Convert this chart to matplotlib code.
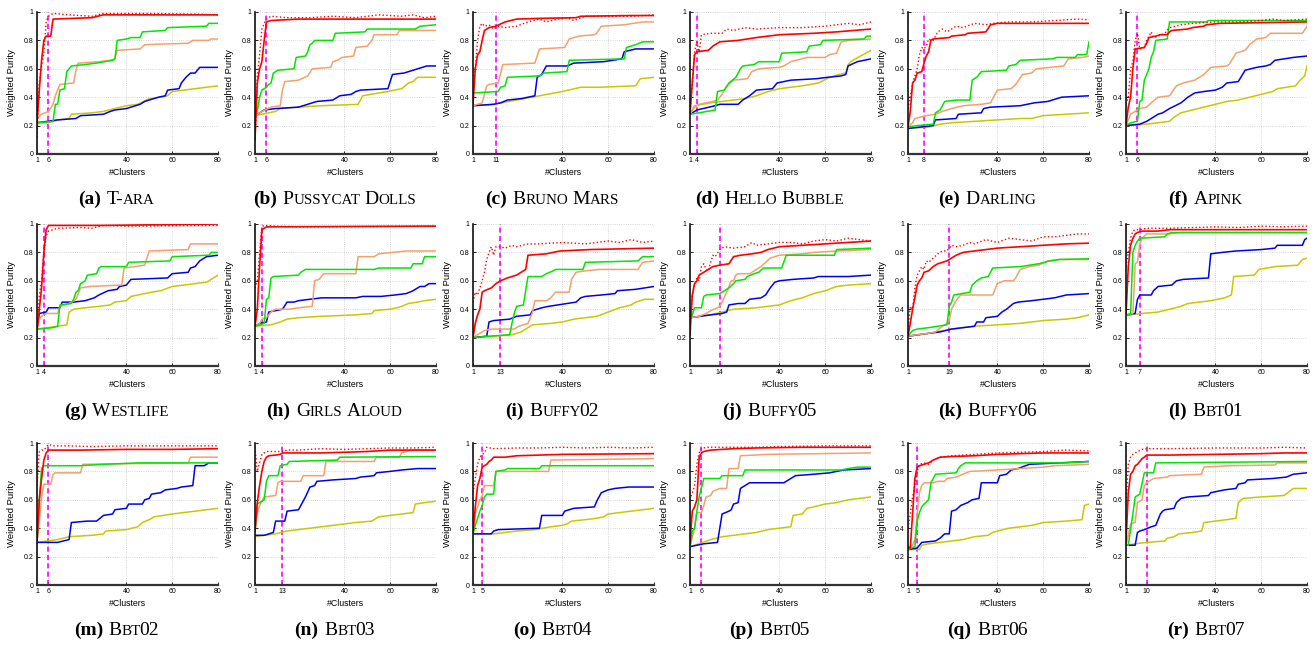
import matplotlib
matplotlib.use('Agg')
import matplotlib.pyplot as plt
from matplotlib.font_manager import FontProperties

# dataset names, caption letters and the chosen number of clusters (magenta line)
titles = ['T-ara', 'Pussycat Dolls', 'Bruno Mars', 'Hello Bubble', 'Darling', 'Apink',
          'Westlife', 'Girls Aloud', 'Buffy02', 'Buffy05', 'Buffy06', 'Bbt01',
          'Bbt02', 'Bbt03', 'Bbt04', 'Bbt05', 'Bbt06', 'Bbt07']
letters = 'abcdefghijklmnopqr'
k_values = [6, 6, 11, 4, 8, 6, 4, 4, 13, 14, 19, 7, 6, 13, 5, 6, 5, 10]
x_ticks_common = [1, 40, 60, 80]
y_ticks = [0, 0.2, 0.4, 0.6, 0.8, 1]
y_ticklabels = ['0', '0.2', '0.4', '0.6', '0.8', '1']

# (number of clusters, weighted purity)
tara = dict(
    red=[(1, .22), (2, .45), (3, .66), (4, .8), (5, .83), (7, .83), (8, .95), (25, .96), (30, .98), (80, .98)],
    dotted=[(1, .12), (2, .5), (3, .62), (4, .72), (5, .93), (6, .97), (8, .99), (15, .98), (25, .97), (30, .99),
            (50, .99), (70, .985), (80, .98)],
    green=[(1, .22), (8, .23), (9, .35), (10, .35), (11, .45), (13, .46), (14, .58), (15, .6), (16, .62), (22, .63),
           (27, .64), (34, .66), (35, .67), (36, .8), (40, .81), (42, .82), (46, .82), (47, .86), (57, .87), (58, .89),
           (75, .9), (76, .92), (80, .92)],
    orange=[(1, .25), (3, .28), (6, .3), (8, .35), (9, .41), (11, .49), (17, .5), (18, .59), (19, .64), (28, .65),
            (33, .66), (35, .67), (36, .73), (46, .74), (48, .77), (67, .78), (69, .8), (76, .8), (77, .81), (80, .81)],
    blue=[(1, .22), (10, .24), (18, .25), (20, .27), (30, .28), (33, .3), (35, .31), (40, .32), (46, .35), (48, .37),
          (50, .38), (54, .4), (57, .41), (58, .45), (63, .46), (64, .5), (66, .54), (68, .57), (70, .57), (72, .61),
          (80, .61)],
    yellow=[(1, .22), (6, .22), (10, .24), (15, .25), (16, .28), (25, .29), (30, .3), (35, .32), (40, .34), (45, .35),
            (50, .39), (55, .4), (58, .41), (60, .44), (70, .46), (75, .47), (80, .48)],
)
pussycat = dict(
    red=[(1, .1), (2, .5), (3, .6), (4, .65), (5, .8), (6, .93), (8, .94), (20, .95), (80, .95)],
    dotted=[(1, .1), (2, .55), (3, .7), (4, .88), (5, .92), (6, .95), (8, .97), (15, .96), (25, .96), (35, .97),
            (45, .96), (55, .98), (65, .97), (70, .98), (75, .96), (80, .97)],
    green=[(1, .27), (2, .3), (3, .4), (4, .45), (6, .47), (7, .49), (8, .5), (9, .57), (11, .59), (18, .6), (19, .68),
           (23, .69), (24, .72), (25, .77), (26, .78), (27, .8), (35, .8), (36, .85), (49, .86), (50, .88), (71, .88),
           (73, .9), (80, .91)],
    orange=[(1, .27), (4, .3), (8, .33), (12, .34), (13, .45), (14, .51), (20, .52), (24, .55), (26, .6), (34, .61),
            (35, .65), (37, .66), (39, .68), (44, .69), (45, .75), (50, .76), (52, .8), (53, .84), (63, .84), (64, .87),
            (80, .87)],
    blue=[(1, .27), (3, .29), (5, .31), (10, .32), (20, .33), (24, .35), (28, .37), (35, .38), (38, .41), (43, .42),
          (45, .44), (47, .45), (59, .46), (61, .56), (66, .57), (68, .58), (72, .6), (76, .62), (80, .62)],
    yellow=[(1, .27), (10, .3), (12, .32), (20, .33), (30, .34), (46, .35), (48, .41), (55, .43), (59, .44), (65, .46),
            (68, .5), (70, .51), (72, .54), (80, .54)],
)
bruno = dict(
    red=[(1, .35), (2, .6), (3, .7), (4, .72), (5, .8), (6, .87), (8, .89), (11, .9), (15, .93), (20, .95), (30, .955),
         (46, .96), (48, .97), (70, .975), (80, .975)],
    dotted=[(1, .55), (2, .6), (3, .8), (4, .9), (5, .92), (6, .9), (8, .91), (10, .88), (12, .9), (15, .89), (20, .9),
            (25, .93), (30, .95), (33, .93), (38, .95), (42, .96), (45, .94), (50, .97), (60, .97), (70, .97), (80, .98)],
    green=[(1, .43), (12, .44), (13, .47), (15, .48), (16, .54), (30, .55), (32, .57), (42, .58), (43, .66), (67, .67),
           (68, .75), (72, .77), (75, .79), (80, .79)],
    orange=[(1, .34), (5, .36), (7, .48), (8, .49), (12, .5), (14, .63), (28, .64), (30, .74), (41, .75), (43, .81),
            (47, .83), (54, .84), (55, .85), (57, .9), (67, .91), (75, .93), (80, .93)],
    blue=[(1, .34), (10, .35), (13, .36), (16, .38), (22, .39), (28, .41), (29, .54), (31, .56), (33, .62), (42, .62),
          (45, .64), (58, .65), (66, .67), (67, .72), (72, .74), (80, .74)],
    yellow=[(1, .34), (10, .35), (20, .38), (30, .41), (40, .44), (48, .47), (56, .47), (72, .48), (74, .53), (80, .54)],
)
hello = dict(
    red=[(1, .28), (2, .5), (3, .7), (4, .72), (9, .73), (11, .76), (14, .79), (22, .8), (30, .82), (40, .84), (55, .85),
         (65, .86), (80, .88)],
    dotted=[(1, .3), (2, .5), (3, .72), (4, .79), (5, .72), (6, .84), (10, .85), (15, .85), (17, .88), (20, .87),
            (25, .89), (30, .88), (40, .89), (50, .89), (60, .9), (70, .92), (75, .91), (80, .93)],
    green=[(1, .28), (5, .29), (12, .31), (13, .44), (16, .45), (18, .5), (21, .54), (23, .6), (24, .62), (29, .63),
           (31, .65), (40, .65), (41, .71), (52, .72), (53, .76), (58, .77), (59, .8), (77, .81), (78, .83), (80, .83)],
    orange=[(1, .28), (3, .33), (5, .35), (11, .37), (13, .38), (15, .42), (17, .48), (20, .52), (26, .53), (28, .58),
            (31, .6), (40, .61), (42, .62), (45, .65), (52, .68), (60, .68), (62, .7), (65, .71), (67, .79), (70, .8),
            (80, .81)],
    blue=[(1, .28), (4, .31), (12, .34), (14, .35), (22, .35), (24, .38), (27, .41), (30, .45), (37, .46), (39, .5),
          (45, .52), (56, .53), (61, .54), (67, .55), (69, .56), (70, .62), (74, .65), (80, .67)],
    yellow=[(1, .28), (3, .34), (10, .36), (20, .38), (25, .39), (30, .41), (35, .44), (40, .46), (50, .48), (57, .5),
            (62, .54), (66, .56), (69, .57), (70, .63), (72, .66), (80, .73)],
)
darling = dict(
    red=[(1, .19), (2, .3), (3, .5), (4, .52), (5, .57), (7, .58), (8, .64), (9, .69), (10, .72), (11, .8), (12, .81),
         (19, .82), (20, .83), (26, .84), (27, .85), (35, .86), (37, .91), (40, .92), (80, .92)],
    dotted=[(1, .32), (2, .4), (3, .5), (5, .6), (6, .7), (7, .75), (8, .74), (9, .76), (10, .81), (12, .8), (14, .86),
            (16, .88), (18, .86), (22, .9), (25, .89), (30, .92), (35, .91), (38, .92), (45, .93), (55, .93), (65, .94),
            (75, .95), (80, .945)],
    green=[(1, .19), (5, .2), (12, .21), (13, .29), (15, .31), (17, .37), (22, .38), (28, .38), (29, .52), (31, .54),
           (33, .58), (44, .59), (45, .62), (48, .63), (50, .66), (64, .67), (66, .68), (74, .68), (75, .7), (79, .7),
           (80, .79)],
    orange=[(1, .19), (3, .22), (4, .25), (9, .27), (13, .28), (16, .3), (20, .32), (25, .34), (33, .35), (37, .36),
            (38, .39), (40, .45), (46, .46), (48, .49), (51, .56), (55, .57), (57, .6), (69, .62), (71, .67), (77, .68),
            (80, .69)],
    blue=[(1, .18), (12, .2), (13, .24), (22, .25), (23, .28), (33, .29), (34, .32), (37, .33), (50, .34), (56, .36),
          (62, .37), (68, .4), (80, .41)],
    yellow=[(1, .18), (10, .19), (15, .21), (20, .22), (30, .23), (40, .24), (50, .25), (55, .25), (60, .27), (70, .28),
            (80, .29)],
)
apink = dict(
    red=[(1, .2), (2, .33), (3, .4), (4, .6), (5, .74), (9, .75), (10, .78), (11, .82), (14, .83), (16, .84), (19, .84),
         (20, .86), (21, .87), (28, .88), (30, .89), (35, .9), (36, .91), (42, .92), (80, .93)],
    dotted=[(1, .35), (2, .4), (3, .6), (4, .65), (5, .8), (6, .85), (7, .74), (9, .75), (10, .8), (12, .86), (13, .82),
            (15, .83), (18, .85), (20, .89), (25, .91), (30, .92), (40, .93), (50, .93), (60, .94), (65, .95), (70, .94),
            (80, .95)],
    green=[(1, .2), (3, .22), (6, .23), (7, .37), (8, .38), (9, .52), (11, .6), (12, .68), (13, .72), (14, .8), (19, .81),
           (20, .93), (36, .93), (37, .94), (80, .94)],
    orange=[(1, .2), (3, .28), (5, .3), (7, .32), (10, .33), (12, .36), (15, .4), (20, .41), (23, .48), (26, .5),
            (31, .52), (33, .54), (35, .56), (38, .61), (45, .62), (46, .63), (49, .71), (53, .73), (55, .77), (58, .81),
            (62, .82), (64, .85), (78, .85), (80, .9)],
    blue=[(1, .2), (7, .21), (10, .23), (12, .25), (15, .28), (17, .29), (20, .32), (25, .36), (28, .4), (31, .43),
          (35, .44), (40, .45), (43, .47), (45, .5), (50, .51), (53, .59), (58, .61), (62, .62), (64, .63), (66, .66),
          (74, .68), (80, .69)],
    yellow=[(1, .2), (10, .21), (20, .23), (22, .26), (25, .29), (30, .31), (35, .33), (40, .35), (45, .37), (50, .38),
            (55, .4), (60, .42), (65, .44), (67, .46), (75, .48), (77, .52), (79, .55), (80, .62)],
)
westlife = dict(
    red=[(1, .25), (3, .55), (4, .8), (5, .96), (6, .99), (30, .99), (80, 1.0)],
    dotted=[(1, .2), (2, .5), (3, .6), (4, .8), (5, .92), (6, .95), (10, .97), (20, .975), (25, .97), (30, .99),
            (40, .985), (80, .99)],
    green=[(1, .26), (8, .27), (10, .28), (11, .43), (16, .44), (17, .47), (18, .52), (19, .53), (20, .58), (22, .6),
           (23, .64), (27, .65), (28, .69), (29, .7), (40, .7), (41, .73), (59, .74), (60, .77), (76, .78), (77, .8),
           (80, .8)],
    orange=[(1, .26), (2, .33), (3, .35), (5, .37), (10, .37), (11, .42), (15, .44), (17, .46), (18, .47), (20, .55),
            (24, .56), (38, .57), (39, .69), (48, .71), (50, .81), (67, .82), (68, .86), (80, .86)],
    blue=[(1, .26), (2, .37), (5, .38), (6, .41), (11, .41), (12, .45), (17, .45), (22, .46), (26, .48), (28, .5),
          (32, .53), (36, .54), (37, .56), (40, .57), (42, .61), (58, .62), (60, .65), (67, .66), (68, .69), (70, .7),
          (72, .74), (75, .77), (80, .78)],
    yellow=[(1, .26), (10, .28), (14, .29), (15, .38), (17, .4), (22, .41), (28, .42), (33, .43), (35, .45), (40, .46),
            (42, .49), (51, .52), (55, .53), (60, .56), (65, .57), (75, .59), (80, .64)],
)
girls = dict(
    red=[(1, .28), (2, .4), (3, .7), (4, .96), (5, .97), (6, .98), (80, .985)],
    dotted=[(1, .55), (2, .6), (3, .8), (4, .98), (5, .99), (10, .985), (20, .98), (80, .985)],
    green=[(1, .28), (5, .3), (6, .47), (7, .48), (8, .62), (9, .63), (20, .64), (21, .66), (23, .68), (53, .68),
           (55, .69), (69, .69), (70, .72), (74, .72), (75, .77), (80, .77)],
    orange=[(1, .28), (3, .3), (4, .33), (6, .34), (8, .38), (10, .4), (16, .4), (20, .41), (26, .42), (27, .6),
            (29, .61), (31, .65), (45, .65), (46, .77), (53, .77), (55, .79), (61, .8), (67, .81), (80, .81)],
    blue=[(1, .28), (3, .3), (6, .31), (7, .38), (10, .39), (13, .4), (15, .45), (18, .45), (20, .46), (25, .47),
          (30, .48), (45, .48), (48, .49), (56, .49), (62, .5), (67, .51), (70, .53), (73, .56), (75, .56), (77, .58),
          (80, .58)],
    yellow=[(1, .28), (8, .29), (12, .31), (15, .33), (20, .34), (30, .35), (45, .36), (52, .37), (53, .39), (60, .4),
            (63, .41), (65, .42), (68, .44), (72, .45), (75, .46), (80, .47)],
)
buffy02 = dict(
    red=[(1, .2), (2, .3), (3, .36), (4, .4), (5, .52), (6, .53), (9, .55), (11, .58), (13, .6), (16, .62), (20, .64),
         (23, .67), (24, .68), (25, .78), (33, .79), (39, .81), (52, .82), (80, .83)],
    dotted=[(1, .45), (2, .52), (3, .5), (4, .55), (5, .6), (6, .66), (7, .75), (8, .8), (9, .84), (10, .78), (11, .84),
            (13, .84), (15, .83), (18, .85), (20, .84), (25, .86), (30, .86), (40, .87), (50, .86), (55, .87), (60, .88),
            (65, .87), (70, .89), (75, .87), (80, .88)],
    green=[(1, .2), (8, .21), (17, .22), (18, .3), (19, .37), (20, .42), (23, .43), (24, .53), (25, .63), (31, .63),
           (33, .65), (36, .67), (37, .68), (49, .68), (50, .73), (73, .74), (75, .77), (80, .77)],
    orange=[(1, .2), (3, .22), (6, .25), (9, .26), (19, .26), (21, .28), (25, .3), (27, .38), (28, .46), (33, .46),
            (35, .48), (37, .52), (43, .52), (44, .61), (46, .66), (50, .67), (56, .68), (73, .68), (75, .73), (80, .74)],
    blue=[(1, .2), (7, .21), (8, .31), (10, .32), (17, .33), (20, .35), (26, .36), (27, .39), (31, .41), (34, .42),
          (38, .43), (42, .44), (46, .45), (48, .48), (50, .49), (57, .5), (63, .51), (64, .53), (72, .54), (80, .56)],
    yellow=[(1, .2), (10, .21), (18, .22), (22, .24), (25, .27), (27, .29), (35, .3), (40, .31), (45, .33), (50, .34),
            (55, .35), (60, .38), (65, .41), (70, .43), (72, .45), (76, .47), (80, .47)],
)
buffy05 = dict(
    red=[(1, .22), (2, .5), (3, .58), (4, .6), (5, .64), (6, .65), (8, .67), (10, .69), (11, .7), (14, .71), (18, .72),
         (20, .77), (23, .78), (28, .79), (32, .8), (35, .82), (40, .84), (50, .85), (60, .86), (70, .87), (80, .88)],
    dotted=[(1, .33), (2, .5), (3, .58), (4, .62), (5, .6), (6, .7), (7, .72), (8, .68), (9, .67), (10, .73), (11, .78),
            (12, .77), (14, .82), (16, .84), (20, .83), (25, .84), (28, .87), (30, .85), (35, .86), (40, .87), (45, .87),
            (50, .86), (55, .88), (60, .89), (65, .88), (70, .9), (75, .89), (80, .88)],
    green=[(1, .34), (2, .36), (3, .41), (6, .41), (7, .49), (8, .5), (14, .51), (16, .53), (18, .55), (20, .58),
           (21, .6), (25, .61), (26, .63), (29, .65), (31, .66), (33, .69), (41, .69), (43, .78), (64, .78), (65, .82),
           (80, .83)],
    orange=[(1, .34), (5, .35), (8, .37), (10, .39), (13, .41), (14, .42), (15, .45), (17, .52), (18, .56), (19, .6),
            (20, .6), (21, .64), (22, .65), (27, .65), (30, .68), (32, .7), (34, .73), (36, .76), (38, .77), (40, .78),
            (50, .79), (55, .8), (65, .81), (80, .82)],
    blue=[(1, .34), (10, .36), (15, .37), (17, .38), (18, .43), (22, .44), (25, .44), (27, .47), (32, .48), (34, .5),
          (36, .55), (38, .59), (40, .6), (46, .61), (55, .62), (57, .63), (70, .63), (80, .64)],
    yellow=[(1, .34), (5, .35), (10, .36), (15, .38), (20, .4), (30, .41), (35, .42), (40, .43), (45, .46), (50, .48),
            (55, .51), (60, .53), (65, .56), (70, .57), (80, .58)],
)
buffy06 = dict(
    red=[(1, .21), (2, .3), (3, .4), (4, .48), (5, .57), (6, .6), (7, .62), (8, .66), (10, .67), (12, .7), (14, .72),
         (16, .73), (18, .74), (20, .76), (22, .78), (25, .8), (30, .81), (40, .83), (50, .84), (60, .85), (70, .86),
         (80, .865)],
    dotted=[(1, .25), (2, .42), (3, .4), (4, .55), (5, .64), (6, .67), (7, .7), (8, .68), (9, .74), (10, .73), (12, .76),
            (14, .79), (16, .81), (18, .81), (20, .85), (22, .84), (25, .85), (28, .87), (30, .86), (35, .89), (40, .87),
            (45, .9), (50, .89), (55, .88), (60, .91), (65, .91), (70, .92), (75, .93), (80, .93)],
    green=[(1, .21), (3, .25), (5, .26), (10, .27), (18, .29), (19, .42), (20, .45), (21, .5), (28, .52), (29, .57),
           (31, .6), (33, .62), (36, .63), (38, .69), (50, .7), (54, .71), (58, .72), (63, .74), (67, .75), (80, .755)],
    orange=[(1, .21), (5, .22), (10, .23), (13, .24), (16, .28), (18, .3), (19, .32), (20, .4), (22, .46), (24, .5),
            (38, .5), (40, .58), (43, .6), (47, .6), (48, .62), (50, .68), (54, .7), (58, .71), (62, .74), (67, .75),
            (80, .75)],
    blue=[(1, .21), (10, .23), (15, .24), (20, .26), (25, .27), (30, .28), (31, .31), (34, .31), (35, .34), (40, .35),
          (42, .38), (44, .4), (47, .44), (49, .45), (55, .46), (60, .47), (65, .48), (70, .5), (80, .51)],
    yellow=[(1, .21), (10, .23), (20, .26), (30, .28), (40, .29), (50, .3), (60, .32), (70, .33), (75, .34), (80, .36)],
)
bbt01 = dict(
    red=[(1, .36), (2, .7), (3, .85), (4, .9), (5, .93), (6, .94), (8, .95), (15, .95), (20, .96), (80, .96)],
    dotted=[(1, .7), (2, .8), (3, .9), (4, .95), (5, .96), (7, .96), (10, .97), (20, .97), (30, .975), (40, .98),
            (50, .975), (60, .985), (70, .98), (80, .985)],
    green=[(1, .36), (3, .36), (4, .8), (5, .85), (6, .88), (7, .9), (18, .91), (19, .93), (21, .94), (80, .94)],
    orange=[(1, .36), (4, .37), (5, .72), (6, .73), (7, .86), (8, .9), (10, .93), (20, .93), (25, .94), (80, .94)],
    blue=[(1, .36), (5, .37), (6, .47), (7, .5), (12, .5), (13, .53), (15, .56), (21, .57), (23, .6), (26, .61),
          (37, .62), (38, .79), (43, .8), (49, .81), (60, .82), (66, .83), (67, .85), (78, .85), (79, .89), (80, .9)],
    yellow=[(1, .36), (8, .37), (15, .38), (20, .4), (25, .42), (28, .44), (33, .45), (38, .46), (44, .48), (47, .5),
            (48, .63), (57, .64), (59, .68), (66, .7), (76, .71), (78, .75), (80, .76)],
)
bbt02 = dict(
    red=[(1, .3), (2, .6), (3, .75), (4, .88), (5, .93), (6, .95), (20, .95), (40, .955), (60, .955), (80, .96)],
    dotted=[(1, .7), (2, .94), (3, .95), (4, .95), (5, .97), (6, .99), (8, .98), (15, .98), (25, .975), (40, .98),
            (60, .98), (80, .98)],
    green=[(1, .3), (2, .6), (3, .82), (4, .84), (20, .84), (30, .85), (45, .86), (80, .86)],
    orange=[(1, .3), (2, .45), (3, .62), (4, .71), (7, .71), (8, .78), (9, .79), (20, .79), (21, .85), (67, .86),
            (68, .9), (80, .9)],
    blue=[(1, .3), (10, .3), (15, .32), (16, .44), (23, .45), (27, .45), (30, .49), (34, .5), (35, .53), (40, .54),
          (41, .57), (47, .57), (48, .6), (50, .61), (51, .64), (55, .65), (57, .67), (62, .68), (64, .69), (69, .7),
          (70, .84), (74, .84), (76, .86), (80, .86)],
    yellow=[(1, .3), (10, .32), (15, .34), (25, .35), (30, .36), (31, .38), (40, .39), (45, .41), (47, .44), (50, .46),
            (52, .48), (60, .5), (70, .52), (75, .53), (80, .54)],
)
bbt03 = dict(
    red=[(1, .38), (2, .58), (3, .7), (4, .8), (5, .87), (6, .9), (7, .91), (10, .915), (12, .92), (13, .93), (30, .93),
         (40, .935), (50, .94), (60, .95), (80, .95)],
    dotted=[(1, .97), (2, .8), (3, .86), (4, .92), (5, .93), (6, .94), (13, .94), (15, .95), (20, .95), (30, .96),
            (40, .955), (50, .96), (60, .965), (70, .965), (80, .97)],
    green=[(1, .38), (2, .57), (5, .6), (6, .73), (7, .77), (11, .77), (12, .84), (15, .85), (16, .87), (37, .88),
           (38, .9), (80, .905)],
    orange=[(1, .38), (2, .5), (3, .56), (5, .62), (10, .63), (11, .72), (12, .73), (21, .73), (22, .77), (31, .77),
            (32, .87), (53, .87), (54, .9), (64, .9), (65, .93), (69, .95), (80, .95)],
    blue=[(1, .35), (5, .35), (9, .37), (10, .45), (14, .45), (15, .52), (20, .53), (21, .56), (23, .62), (25, .69),
          (27, .7), (28, .73), (35, .74), (45, .75), (47, .76), (53, .77), (54, .79), (60, .8), (65, .81), (72, .82),
          (80, .82)],
    yellow=[(1, .34), (5, .35), (10, .36), (15, .38), (20, .39), (25, .4), (30, .41), (35, .42), (40, .43), (45, .44),
            (52, .45), (55, .48), (60, .49), (65, .5), (70, .51), (71, .57), (75, .58), (80, .59)],
)
bbt04 = dict(
    red=[(1, .37), (2, .55), (3, .7), (4, .75), (5, .83), (6, .84), (7, .85), (8, .87), (9, .88), (10, .9), (15, .9),
         (20, .91), (30, .915), (40, .92), (80, .925)],
    dotted=[(1, .65), (2, .75), (3, .85), (4, .9), (5, .92), (6, .93), (7, .97), (10, .96), (20, .965), (30, .965),
            (40, .97), (50, .965), (60, .97), (70, .965), (80, .97)],
    green=[(1, .36), (2, .42), (4, .52), (5, .56), (6, .62), (7, .64), (10, .64), (11, .8), (15, .81), (16, .82),
           (30, .82), (31, .84), (80, .84)],
    orange=[(1, .36), (2, .5), (3, .55), (4, .6), (5, .63), (6, .7), (10, .7), (11, .8), (34, .8), (35, .88), (80, .89)],
    blue=[(1, .36), (9, .36), (10, .38), (12, .39), (30, .4), (31, .49), (40, .49), (41, .52), (45, .54), (54, .55),
          (55, .59), (57, .65), (60, .67), (63, .68), (69, .69), (80, .69)],
    yellow=[(1, .36), (10, .36), (20, .38), (28, .39), (35, .41), (40, .42), (42, .43), (44, .45), (50, .46), (55, .47),
            (58, .48), (60, .5), (70, .52), (80, .54)],
)
bbt05 = dict(
    red=[(1, .3), (2, .52), (3, .55), (4, .6), (5, .9), (6, .93), (7, .94), (10, .95), (20, .96), (30, .965), (50, .97),
         (80, .97)],
    dotted=[(1, .6), (2, .65), (3, .7), (4, .85), (5, .93), (6, .96), (8, .97), (15, .97), (30, .97), (40, .975),
            (60, .98), (80, .98)],
    green=[(1, .27), (2, .38), (3, .4), (4, .52), (5, .62), (7, .75), (14, .75), (15, .77), (24, .77), (25, .81),
           (67, .81), (70, .82), (74, .83), (80, .83)],
    orange=[(1, .27), (3, .4), (4, .51), (6, .51), (7, .56), (8, .62), (10, .63), (11, .66), (14, .68), (17, .68),
            (18, .82), (22, .82), (23, .91), (35, .92), (80, .93)],
    blue=[(1, .27), (4, .28), (7, .29), (13, .3), (14, .4), (15, .5), (18, .52), (19, .53), (20, .57), (22, .58),
          (23, .68), (25, .7), (27, .72), (42, .72), (44, .74), (47, .77), (55, .78), (62, .79), (68, .81), (80, .82)],
    yellow=[(1, .27), (5, .29), (10, .32), (15, .34), (20, .35), (25, .36), (30, .37), (35, .39), (40, .4), (45, .41),
            (46, .49), (50, .5), (52, .54), (55, .55), (60, .57), (65, .58), (70, .6), (75, .61), (80, .62)],
)
bbt06 = dict(
    red=[(1, .27), (2, .26), (3, .5), (4, .75), (5, .83), (6, .84), (8, .85), (10, .86), (12, .88), (15, .9), (20, .905),
         (30, .91), (40, .92), (50, .925), (60, .93), (80, .93)],
    dotted=[(1, .4), (2, .5), (3, .62), (4, .7), (5, .8), (6, .85), (8, .86), (10, .85), (12, .88), (15, .9), (20, .91),
            (30, .92), (40, .93), (50, .935), (60, .94), (70, .95), (80, .945)],
    green=[(1, .25), (4, .27), (5, .45), (6, .51), (7, .55), (8, .57), (10, .6), (11, .72), (13, .78), (22, .79),
           (23, .82), (24, .84), (26, .86), (70, .86), (80, .87)],
    orange=[(1, .25), (3, .28), (4, .32), (5, .5), (6, .65), (7, .7), (8, .72), (12, .72), (14, .73), (17, .73),
            (18, .75), (22, .76), (25, .78), (28, .8), (40, .81), (50, .82), (60, .83), (65, .84), (80, .85)],
    blue=[(1, .25), (5, .26), (7, .3), (13, .31), (15, .33), (17, .36), (19, .36), (20, .52), (22, .53), (24, .56),
          (27, .58), (29, .6), (32, .61), (33, .72), (40, .72), (41, .77), (44, .78), (46, .81), (49, .82), (54, .85),
          (67, .86), (80, .87)],
    yellow=[(1, .25), (6, .25), (7, .28), (10, .29), (15, .3), (20, .31), (25, .32), (30, .34), (36, .35), (38, .37),
            (40, .38), (45, .4), (50, .41), (55, .42), (60, .44), (70, .45), (77, .46), (78, .56), (80, .57)],
)
bbt07 = dict(
    red=[(1, .3), (2, .65), (3, .78), (4, .8), (5, .84), (6, .85), (7, .87), (8, .89), (9, .9), (10, .915), (20, .915),
         (40, .92), (60, .925), (70, .93), (80, .93)],
    dotted=[(1, .56), (2, .85), (3, .9), (4, .92), (5, .93), (6, .94), (8, .955), (10, .96), (20, .96), (40, .965),
            (60, .965), (70, .97), (80, .965)],
    green=[(1, .28), (2, .28), (4, .5), (5, .62), (7, .64), (9, .79), (13, .79), (14, .86), (80, .87)],
    orange=[(1, .28), (2, .35), (3, .43), (5, .44), (6, .58), (8, .6), (9, .7), (10, .72), (13, .75), (19, .76),
            (20, .77), (34, .78), (35, .83), (46, .84), (66, .845), (67, .86), (80, .86)],
    blue=[(1, .28), (5, .28), (6, .37), (7, .38), (9, .39), (12, .41), (14, .42), (16, .5), (17, .52), (18, .53),
          (22, .54), (23, .58), (25, .61), (28, .62), (37, .63), (38, .65), (41, .66), (44, .67), (49, .68), (50, .71),
          (53, .72), (54, .74), (65, .75), (71, .76), (74, .78), (80, .79)],
    yellow=[(1, .28), (5, .29), (10, .3), (18, .31), (19, .33), (22, .34), (24, .36), (30, .37), (34, .38), (35, .44),
            (40, .45), (45, .46), (49, .47), (50, .58), (52, .61), (60, .62), (70, .63), (74, .68), (80, .68)],
)

panels = [tara, pussycat, bruno, hello, darling, apink, westlife, girls, buffy02,
          buffy05, buffy06, bbt01, bbt02, bbt03, bbt04, bbt05, bbt06, bbt07]

styles = {
    'yellow': dict(color='#c8c800', lw=1.1, ls='-'),
    'blue': dict(color='#0000f0', lw=1.1, ls='-'),
    'orange': dict(color='#f4a06c', lw=1.1, ls='-'),
    'green': dict(color='#00e600', lw=1.1, ls='-'),
    'dotted': dict(color='#ff0000', lw=1.0, ls=':'),
    'red': dict(color='#ff0000', lw=1.2, ls='-'),
}

W, H = 1316, 645
fig = plt.figure(figsize=(W / 100, H / 100), dpi=100)

col_left = [37, 255, 473, 690, 908, 1126]
row_bottom = [154, 366, 585]
ax_w, ax_h = 181, 142
sans = 'Liberation Sans'
serif = 'Liberation Serif'

renderer = fig.canvas.get_renderer()


def text_width(s, size, weight):
    prop = FontProperties(family=serif, size=size, weight=weight)
    w, h, d = renderer.get_text_width_height_descent(s, prop, ismath=False)
    return w


def caption(cx, base_y, letter, title, big=14, small=10.8):
    # "(a) Title" with the title set in small capitals; pieces are
    # (text, size, weight, space before in px)
    pieces = [('(%s)' % letter, big, 'bold', 0)]
    word_gap = 5.5
    for word in title.split(' '):
        first = True
        for ch in word:
            size = small if ch.islower() else big
            txt = ch.upper()
            if not first and pieces[-1][1] == size:
                pieces[-1] = (pieces[-1][0] + txt, size, 'normal', pieces[-1][3])
            else:
                pre = word_gap if first else 0
                if pieces[-1][1] < size:
                    pre -= 1.5      # small -> big boundary measures a bit wide
                pieces.append((txt, size, 'normal', pre))
            first = False
    widths = [text_width(p[0], p[1], p[2]) for p in pieces]
    total = sum(widths) + sum(p[3] for p in pieces)
    x = cx - total / 2
    for (txt, size, weight, pre), w in zip(pieces, widths):
        x += pre
        fig.text(x / W, 1 - base_y / H, txt, fontsize=size, fontweight=weight,
                 family=serif, ha='left', va='baseline')
        x += w


for i, data in enumerate(panels):
    r, c = divmod(i, 6)
    left, bottom = col_left[c], row_bottom[r]
    ax = fig.add_axes([left / W, 1 - bottom / H, ax_w / W, ax_h / H])
    k = k_values[i]

    ax.axvline(k, color='#ff00ff', ls=(0, (3, 2)), lw=1.2, zorder=1.5)
    for name in ['yellow', 'blue', 'orange', 'green', 'dotted', 'red']:
        xs = [p[0] for p in data[name]]
        ys = [p[1] for p in data[name]]
        ax.plot(xs, ys, zorder=2, **styles[name])

    ax.set_xlim(1, 80)
    ax.set_ylim(0, 1)
    ticks = sorted(set(x_ticks_common + [k]))
    ax.set_xticks(ticks)
    ax.set_xticklabels([str(t) for t in ticks])
    ax.set_yticks(y_ticks)
    ax.set_yticklabels(y_ticklabels)
    ax.tick_params(direction='in', length=2, width=0.6, labelsize=5, pad=2.5)
    for lab in ax.get_xticklabels() + ax.get_yticklabels():
        lab.set_family(sans)
    ax.grid(True, color='#c8c8c8', ls=':', lw=0.6)
    ax.set_axisbelow(True)
    for side in ['top', 'right']:
        ax.spines[side].set_visible(False)
    ax.spines['left'].set_color('#111111')
    ax.spines['left'].set_linewidth(1.2)
    ax.spines['bottom'].set_color('#333333')
    ax.spines['bottom'].set_linewidth(1.6)

    ax.set_xlabel('#Clusters', fontsize=6.3, family=sans)
    ax.set_ylabel('Weighted Purity', fontsize=6.8, family=sans)
    ax.xaxis.set_label_coords(0.5, -0.1)
    ax.yaxis.set_label_coords(-0.115, 0.5)

    caption(left + ax_w / 2 - 11, bottom + 50, letters[i], titles[i])

fig.savefig('out.png', dpi=100)
